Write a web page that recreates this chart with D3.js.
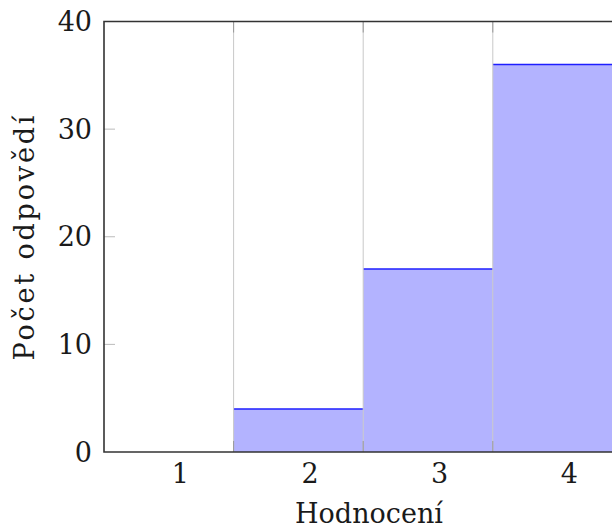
<!DOCTYPE html>
<html><head><meta charset="utf-8">
<script src="https://cdn.jsdelivr.net/npm/d3@7"></script>
<style>html,body{margin:0;padding:0;background:#fff;overflow:hidden}</style>
</head><body>
<script>
const categories = ["1","2","3","4"];
const values = [0,4,17,36];
const yTicks = [0,10,20,30,40];
const xLabel = "Hodnocení";
const yLabel = "Počet odpovědí";

(function(){
const W = 612, H = 531;
const mLeft = 104, mTop = 21.5, mBottom = 452, step = 129.6;
const svg = d3.select("body").append("svg").attr("width", W).attr("height", H)
  .style("font-family", "DejaVu Serif").style("display","block");

const x = d3.scaleBand().domain(categories).range([mLeft, mLeft + step*categories.length]).padding(0);
const y = d3.scaleLinear().domain([0,40]).range([mBottom, mTop]);
const mRight = mLeft + step*5;
const data = categories.map((c,i)=>({c, v: values[i]}));

svg.selectAll("rect.bar").data(data).enter().append("rect")
  .attr("x", d=>x(d.c)).attr("width", x.bandwidth())
  .attr("y", d=>y(d.v)).attr("height", d=>y(0)-y(d.v))
  .attr("fill", "#b3b3ff");
svg.selectAll("line.topl").data(data.filter(d=>d.v>0)).enter().append("line")
  .attr("x1",d=>x(d.c)).attr("x2",d=>x(d.c)+x.bandwidth())
  .attr("y1",d=>y(d.v)).attr("y2",d=>y(d.v))
  .attr("stroke","#1f1fff").attr("stroke-width",1.6);

const bounds = categories.slice(1).map(c=>x(c));
svg.selectAll("line.grid").data(bounds).enter().append("line")
  .attr("x1",d=>d).attr("x2",d=>d).attr("y1",mTop).attr("y2",mBottom)
  .attr("stroke","#c8c8c8").attr("stroke-width",1);
bounds.forEach(b=>{
  svg.append("line").attr("x1",b).attr("x2",b).attr("y1",mTop).attr("y2",mTop+11).attr("stroke","#999").attr("stroke-width",1);
  svg.append("line").attr("x1",b).attr("x2",b).attr("y1",mBottom-11).attr("y2",mBottom).attr("stroke","#999").attr("stroke-width",1);
});
yTicks.slice(1,-1).forEach(t=>{
  svg.append("line").attr("x1",mLeft).attr("x2",mLeft+11).attr("y1",y(t)).attr("y2",y(t)).attr("stroke","#bbb").attr("stroke-width",1);
});

svg.append("path").attr("d",`M${mRight},${mTop}H${mLeft}V${mBottom}H${mRight}`)
  .attr("fill","none").attr("stroke","#333").attr("stroke-width",1.6);

svg.selectAll("text.yt").data(yTicks).enter().append("text")
  .attr("x", 92).attr("y", d=>y(d)+9.5).attr("text-anchor","end")
  .attr("font-size",27).attr("fill","#1a1a1a").text(d=>d);
svg.selectAll("text.xt").data(categories).enter().append("text")
  .attr("x", d=>x(d)+x.bandwidth()*0.59).attr("y", 483).attr("text-anchor","middle")
  .attr("font-size",27).attr("fill","#1a1a1a").text(d=>d);
svg.append("text").attr("x",369).attr("y",523).attr("text-anchor","middle")
  .attr("font-size",27).attr("fill","#1a1a1a").text(xLabel);
svg.append("text").attr("transform","translate(34,238) rotate(-90)").attr("text-anchor","middle")
  .attr("font-size",27).attr("fill","#1a1a1a")
  .attr("textLength",245).attr("lengthAdjust","spacing").text(yLabel);
})();
</script>
</body></html>
